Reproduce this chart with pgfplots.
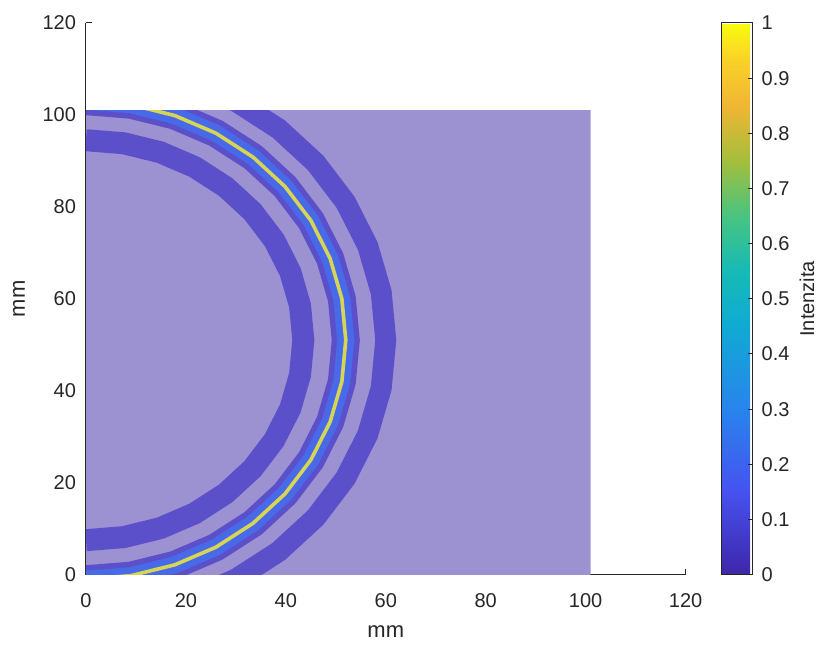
\documentclass[border=0pt]{standalone}
\usepackage{fontspec}
\setmainfont{Liberation Sans}
\usepackage{pgfplots}
\pgfplotsset{compat=1.18}
\pgfkeys{/pgf/number format/assume math mode=true}
\definecolor{bgc}{RGB}{156,146,210}
\definecolor{ringc}{RGB}{92,80,202}
\definecolor{bandc}{RGB}{72,106,232}
\definecolor{corec}{RGB}{214,214,84}
\definecolor{axc}{RGB}{38,38,38}
\pgfplotsset{colormap={parula}{rgb255(0)=(62,38,168) rgb255(15)=(70,82,240) rgb255(30)=(40,132,236) rgb255(45)=(16,170,212) rgb255(55)=(22,186,182) rgb255(65)=(72,196,128) rgb255(75)=(164,190,60) rgb255(85)=(240,182,52) rgb255(93)=(250,208,40) rgb255(100)=(249,251,14)}}
\begin{document}
\begin{tikzpicture}
\path (-43pt,-34.5pt) rectangle (367.5pt,287.5pt);
\begin{axis}[
  at={(0,0)}, anchor=south west,
  scale only axis, width=300pt, height=276pt,
  xmin=0, xmax=120, ymin=0, ymax=120,
  axis x line*=bottom, axis y line*=left,
  axis line style={axc, line width=0.5pt},
  tick align=inside, major tick length=3pt,
  tick style={axc, line width=0.5pt},
  xtick={0,20,40,60,80,100,120}, ytick={0,20,40,60,80,100,120},
  tick label style={font=\fontsize{10}{12}\selectfont, text=axc},
  xticklabel style={yshift=-6pt},
  yticklabel style={xshift=-1.5pt},
  xlabel={mm}, ylabel={mm},
  label style={font=\fontsize{11}{13}\selectfont, text=axc},
  xlabel style={at={(axis description cs:0.5,0)}, anchor=center, yshift=-28.5pt},
  ylabel style={yshift=2pt},
  colormap name=parula, point meta min=0, point meta max=1,
  colorbar,
  colorbar style={
    at={(parent axis.south east)}, anchor=south west, xshift=9.5pt,
    width=15.5pt,
    ytick={0,0.1,0.2,0.3,0.4,0.5,0.6,0.7,0.8,0.9,1},
    yticklabels={0,0.1,0.2,0.3,0.4,0.5,0.6,0.7,0.8,0.9,1},
    ytick pos=right, yticklabel pos=right,
    tick align=inside, major tick length=2.5pt,
    tick style={axc, line width=0.5pt},
    axis line style={axc, line width=0.5pt},
    yticklabel style={font=\fontsize{10}{12}\selectfont, text=axc, xshift=1pt},
    ylabel={Intenzita},
    ylabel style={font=\fontsize{10}{12}\selectfont, text=axc, at={(axis description cs:1,0.5)}, anchor=north, yshift=-20pt},
  },
]
\begin{scope}
\clip (axis cs:0,0) rectangle (axis cs:101,101);
\addplot[fill=bgc, draw=none] coordinates {(0,0) (101,0) (101,101) (0,101)} -- cycle;
% inner ring r=43.5
\addplot[ringc, line width=11pt, no markers] coordinates {
(0,7.5) (7.55,8.16) (14.88,10.12) (21.75,13.33) (27.96,17.68) (33.32,23.04) (37.67,29.25) (40.88,36.12) (42.84,43.45) (43.5,51)
(42.84,58.55) (40.88,65.88) (37.67,72.75) (33.32,78.96) (27.96,84.32) (21.75,88.67) (14.88,91.88) (7.55,93.84) (0,94.5)};
% middle ring r=52
\addplot[ringc, line width=14pt, no markers] coordinates {
(0,-1) (9.03,-0.21) (17.78,2.14) (26,5.97) (33.43,11.17) (39.83,17.57) (45.03,25) (48.86,33.22) (51.21,41.97) (52,51)
(51.21,60.03) (48.86,68.78) (45.03,77) (39.83,84.43) (33.43,90.83) (26,96.03) (17.78,99.86) (9.03,102.21) (0,103)};
\addplot[bandc, line width=8.5pt, no markers] coordinates {
(0,-1) (9.03,-0.21) (17.78,2.14) (26,5.97) (33.43,11.17) (39.83,17.57) (45.03,25) (48.86,33.22) (51.21,41.97) (52,51)
(51.21,60.03) (48.86,68.78) (45.03,77) (39.83,84.43) (33.43,90.83) (26,96.03) (17.78,99.86) (9.03,102.21) (0,103)};
\addplot[corec, line width=1.8pt, no markers] coordinates {
(0,-1) (9.03,-0.21) (17.78,2.14) (26,5.97) (33.43,11.17) (39.83,17.57) (45.03,25) (48.86,33.22) (51.21,41.97) (52,51)
(51.21,60.03) (48.86,68.78) (45.03,77) (39.83,84.43) (33.43,90.83) (26,96.03) (17.78,99.86) (9.03,102.21) (0,103)};
% outer ring r=60
\addplot[ringc, line width=10.5pt, no markers] coordinates {
(20.52,-5.38) (30,-0.96) (38.57,5.04) (45.96,12.43) (51.96,21) (56.38,30.48) (59.09,40.58) (60,51)
(59.09,61.42) (56.38,71.52) (51.96,81) (45.96,89.57) (38.57,96.96) (30,102.96) (20.52,107.38)};
\end{scope}
\end{axis}
\end{tikzpicture}
\end{document}
